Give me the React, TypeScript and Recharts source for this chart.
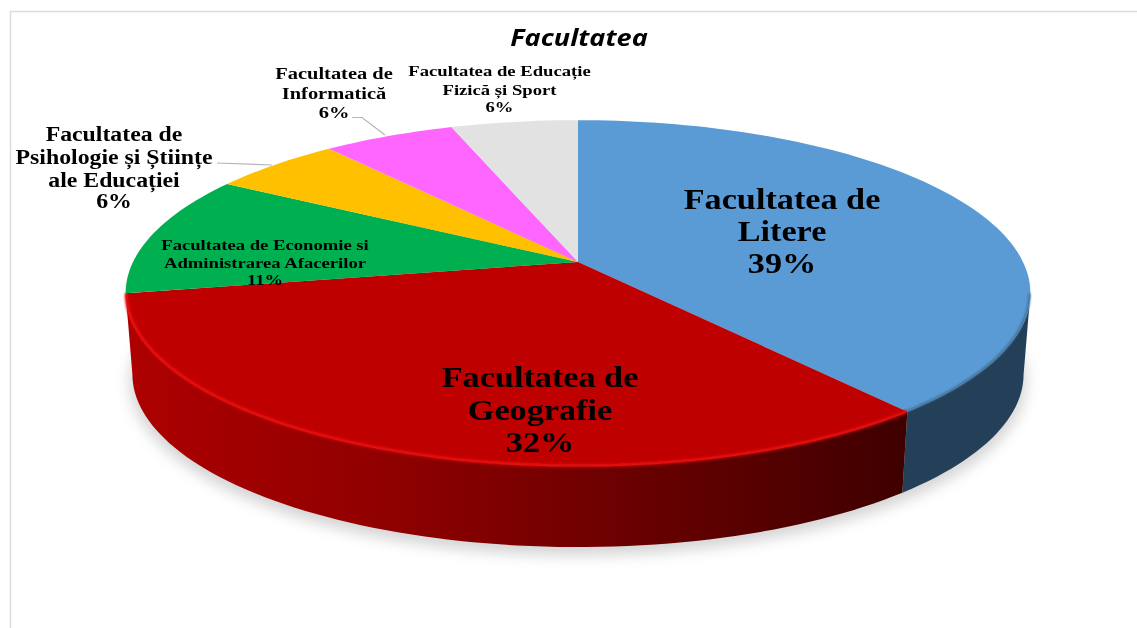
import React from "react";
import { PieChart, Pie, Cell } from "recharts";

const categories = [
  ["Facultatea de", "Litere"],
  ["Facultatea de", "Geografie"],
  ["Facultatea de Economie si", "Administrarea Afacerilor"],
  ["Facultatea de", "Psihologie și Științe", "ale Educației"],
  ["Facultatea de", "Informatică"],
  ["Facultatea de Educație", "Fizică și Sport"],
];
const percentLabels = ["39%", "32%", "11%", "6%", "6%", "6%"];
const shares = [39.0, 33.1, 11.4, 5.5, 5.6, 5.4];
const topColors = ["#5B9BD5", "#BE0000", "#00B050", "#FFC000", "#FF66FF", "#E2E2E2"];
const wallFills = ["#243F58", "url(#redWall)", "#007a38", "#b38600", "#b347b3", "#9e9e9e"];
const rimColors = ["#3d6a90", "#e40808", "#10c060", "#FFC000", "#FF66FF", "#E2E2E2"];

const tableData = categories.map((c, i) => ({ name: c.join(" "), value: shares[i] }));

const CX = 578;
const CY = 262;
const RADIUS = 445;
const TILT = 0.376;
const PERSPECTIVE = 0.18;
const DEPTH = 81;
const BASE_SCALE = 0.985;
const VISIBLE_FROM = 100.4;
const VISIBLE_TO = 259.6;

const labelLayout = [
  { x: 782, ys: [209, 241, 273], size: 29.5, sx: 1.16 },
  { x: 540, ys: [387, 420, 452], size: 29.5, sx: 1.16 },
  { x: 265, ys: [250, 268, 285], size: 15, sx: 1.243 },
  { x: 114, ys: [141, 164, 187, 208], size: 20, sx: 1.19, leader: "217,163 272,165" },
  { x: 334, ys: [79, 99, 118], size: 17.5, sx: 1.17, leader: "352,117.5 362,117.5 385,135" },
  { x: 499.5, ys: [76, 95, 112], size: 15, sx: 1.245 },
];

type Pt = [number, number];

function project(cx: number, cy: number, R: number, theta: number, rf = 1, base = false): Pt {
  const t = (theta * Math.PI) / 180;
  const x = rf * Math.sin(t);
  const y = -rf * Math.cos(t);
  const d = 1 - PERSPECTIVE * y;
  const xs = (R * x) / d;
  const ys = (R * TILT * y) / d;
  return base ? [cx + xs * BASE_SCALE, cy + ys + DEPTH] : [cx + xs, cy + ys];
}

function arc(cx: number, cy: number, R: number, a: number, b: number, rf = 1, base = false): Pt[] {
  const n = Math.max(2, Math.ceil(Math.abs(b - a) / 1.5));
  const out: Pt[] = [];
  for (let i = 0; i <= n; i++) out.push(project(cx, cy, R, a + ((b - a) * i) / n, rf, base));
  return out;
}

const toD = (pts: Pt[], close = true) =>
  "M" + pts.map((p) => p[0].toFixed(2) + " " + p[1].toFixed(2)).join("L") + (close ? "Z" : "");

const TopFace = (p: any) => {
  const a = 90 - p.startAngle;
  const b = 90 - p.endAngle;
  const i = p.index ?? 0;
  const pts: Pt[] = [[p.cx, p.cy], ...arc(p.cx, p.cy, p.outerRadius, a, b)];
  const lo = Math.max(a, VISIBLE_FROM);
  const hi = Math.min(b, VISIBLE_TO);
  return (
    <g>
      <path d={toD(pts)} fill={topColors[i]} />
      {hi > lo && (
        <path
          d={toD(arc(p.cx, p.cy, p.outerRadius, lo, hi, 0.998), false)}
          fill="none"
          stroke={rimColors[i]}
          strokeWidth={i === 0 ? 2 : 3.6}
          filter="url(#soft)"
        />
      )}
    </g>
  );
};

const WallFace = (p: any) => {
  const a = Math.max(90 - p.startAngle, VISIBLE_FROM);
  const b = Math.min(90 - p.endAngle, VISIBLE_TO);
  if (b <= a) return <g />;
  const i = p.index ?? 0;
  const top = arc(p.cx, p.cy, p.outerRadius, a, b);
  const bottom = arc(p.cx, p.cy, p.outerRadius, b, a, 1, true);
  return <path d={toD([...top, ...bottom])} fill={wallFills[i]} />;
};

const ShadowFace = (p: any) => (
  <path
    d={toD(arc(p.cx, p.cy + 7, p.outerRadius * 1.006, 0, 360, 1, true))}
    fill="#000"
    fillOpacity={0.17}
    filter="url(#blur)"
  />
);

const renderLabel = (p: any) => {
  const i = p.index;
  const l = labelLayout[i];
  const lines = [...categories[i], percentLabels[i]];
  return (
    <g key={i}>
      {l.leader && <polyline points={l.leader} fill="none" stroke="#b5b5b5" strokeWidth={1.2} />}
      <text
        transform={`translate(${l.x} 0) scale(${l.sx} 1)`}
        textAnchor="middle"
        fontFamily="'Liberation Serif', serif"
        fontWeight="bold"
        fontSize={l.size}
        fill="#000"
        filter="url(#textSoft)"
      >
        {lines.map((t, j) => (
          <tspan key={j} x={0} y={l.ys[j]}>
            {t}
          </tspan>
        ))}
      </text>
    </g>
  );
};

export default function App() {
  return (
    <div style={{ position: "absolute", left: 0, top: 0, width: 1137, height: 628, background: "#fff" }}>
      <PieChart width={1137} height={628} margin={{ top: 0, right: 0, bottom: 0, left: 0 }}>
        <defs>
          <linearGradient id="redWall" gradientUnits="userSpaceOnUse" x1="130" y1="0" x2="905" y2="0">
            <stop offset="0" stopColor="#ad0000" />
            <stop offset="0.35" stopColor="#8e0000" />
            <stop offset="0.7" stopColor="#640000" />
            <stop offset="1" stopColor="#3f0000" />
          </linearGradient>
          <filter id="blur" x="-10%" y="-20%" width="120%" height="140%">
            <feGaussianBlur stdDeviation="7" />
          </filter>
          <filter id="soft" x="-5%" y="-5%" width="110%" height="110%">
            <feGaussianBlur stdDeviation="1" />
          </filter>
          <filter id="textSoft" x="-5%" y="-5%" width="110%" height="110%">
            <feGaussianBlur stdDeviation="0.4" />
          </filter>
        </defs>
        <path d="M10.5 628V11.5H1137" fill="none" stroke="#dcdcdc" strokeWidth={1.5} />
        <text
          transform="translate(579 0) scale(1.13 1)"
          x={0}
          y={46}
          textAnchor="middle"
          fontFamily="'Open Sans', sans-serif"
          fontStyle="italic"
          fontWeight={700}
          fontSize={24}
          fill="#000"
          filter="url(#textSoft)"
        >
          Facultatea
        </text>
        <Pie
          data={[{ name: "shadow", value: 1 }]}
          dataKey="value"
          cx={CX}
          cy={CY}
          outerRadius={RADIUS}
          startAngle={90}
          endAngle={-270}
          stroke="none"
          isAnimationActive={false}
          shape={ShadowFace}
          activeShape={ShadowFace}
          legendType="none"
        />
        <Pie
          data={tableData}
          dataKey="value"
          cx={CX}
          cy={CY}
          outerRadius={RADIUS}
          startAngle={90}
          endAngle={-270}
          stroke="none"
          isAnimationActive={false}
          shape={WallFace}
          activeShape={WallFace}
        />
        <Pie
          data={tableData}
          dataKey="value"
          cx={CX}
          cy={CY}
          outerRadius={RADIUS}
          startAngle={90}
          endAngle={-270}
          stroke="none"
          isAnimationActive={false}
          shape={TopFace}
          activeShape={TopFace}
          label={renderLabel}
          labelLine={false}
        >
          {tableData.map((d, i) => (
            <Cell key={d.name} fill={topColors[i]} />
          ))}
        </Pie>
      </PieChart>
    </div>
  );
}
